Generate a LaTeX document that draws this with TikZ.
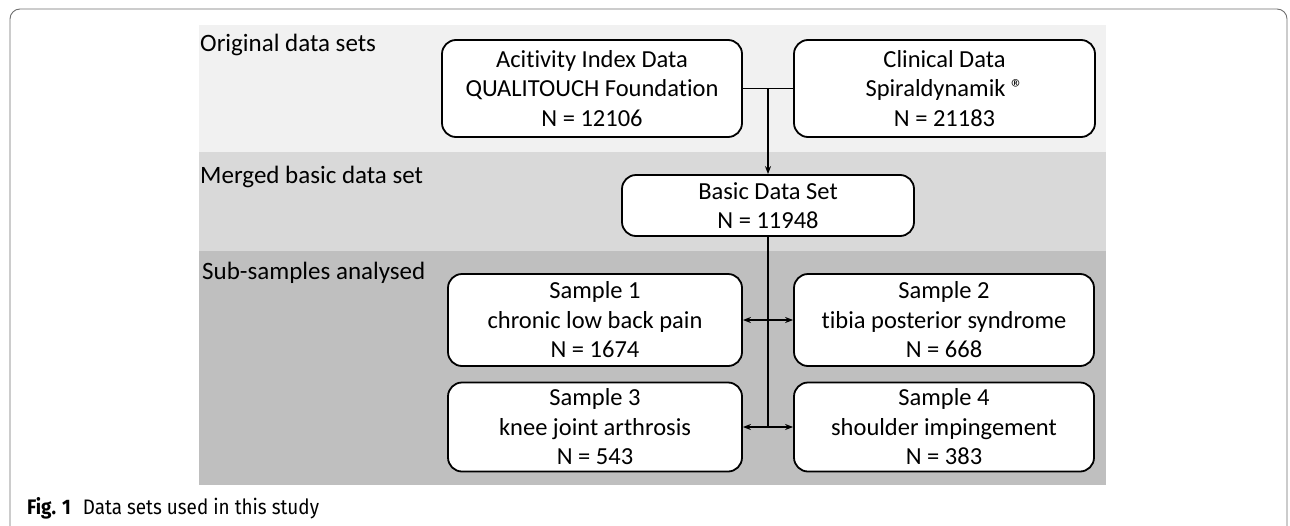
\documentclass[tikz,border=0pt]{standalone}
\usepackage{fontspec}
\setmainfont{Carlito}[Ligatures=NoCommon]
\newfontfamily\capfont[FakeStretch=0.9]{Fira Sans}
\usetikzlibrary{arrows.meta}
\definecolor{bandA}{RGB}{241,241,241}
\definecolor{bandB}{RGB}{217,217,217}
\definecolor{bandC}{RGB}{191,191,191}
\definecolor{framec}{RGB}{110,110,110}
\tikzset{
  box/.style={draw=black, line width=1.8pt, rounded corners=14pt, fill=white,
    align=center, font=\fontsize{24.5}{29.5}\selectfont, inner sep=0pt},
  bandlabel/.style={anchor=base west, font=\fontsize{25}{29}\selectfont, inner sep=0pt},
  conn/.style={line width=1.6pt, draw=black},
  arr/.style={conn, -{Stealth[length=8pt,width=6pt]}},
  darr/.style={conn, {Stealth[length=8pt,width=6pt]}-{Stealth[length=8pt,width=6pt]}}
}
\begin{document}
\begin{tikzpicture}[x=1pt,y=-1pt]
\useasboundingbox (0,0) rectangle (1290,525);
\begin{scope}
\clip (0,0) rectangle (1290,525);
\draw[framec, line width=0.9pt, rounded corners=10pt] (10,545) -- (10,9) -- (1287,9) -- (1287,545);
\end{scope}
% bands
\fill[bandA] (199,25) rectangle (1106,152);
\fill[bandB] (199,152) rectangle (1106,251);
\fill[bandC] (199,251) rectangle (1106,485);
\node[bandlabel] (l1) at (200,51) {Original data sets};
\node[bandlabel] (l2) at (200,183) {Merged basic data set};
\node[bandlabel] (l3) at (202,279) {Sub-samples analysed};
% boxes
\node[box, minimum width=300pt, minimum height=97pt] (A) at (592,88.5)
  {Acitivity Index Data\\QUALITOUCH Foundation\\N = 12106};
\node[box, minimum width=301pt, minimum height=97pt] (B) at (944.5,88.5)
  {Clinical Data\\Spiraldynamik ®\\N = 21183};
\node[box, minimum width=292pt, minimum height=61pt] (C) at (768,205.5)
  {Basic Data Set\\N = 11948};
\node[box, minimum width=294pt, minimum height=92pt] (S1) at (595,320)
  {Sample 1\\chronic low back pain\\N = 1674};
\node[box, minimum width=300pt, minimum height=92pt] (S2) at (944,320)
  {Sample 2\\tibia posterior syndrome\\N = 668};
\node[box, minimum width=294pt, minimum height=89pt] (S3) at (595,427)
  {Sample 3\\knee joint arthrosis\\N = 543};
\node[box, minimum width=300pt, minimum height=89pt] (S4) at (944,427)
  {Sample 4\\shoulder impingement\\N = 383};
% connectors
\coordinate (j1) at (768,88.5);
\coordinate (j2) at (768,427);
\draw[conn] (A.east) -- (B.west);
\draw[arr] (j1) -- (C.north);
\draw[conn] (C.south) -- (j2);
\draw[darr] (S1.east) -- (S2.west);
\draw[darr] (S3.east) -- (S4.west);
% caption
\node[anchor=base west, inner sep=0pt, font=\capfont\fontsize{21}{23}\selectfont] (cap) at (27,514)
  {\textbf{Fig. 1}\hspace{12pt}Data sets used in this study};
\end{tikzpicture}
\end{document}
